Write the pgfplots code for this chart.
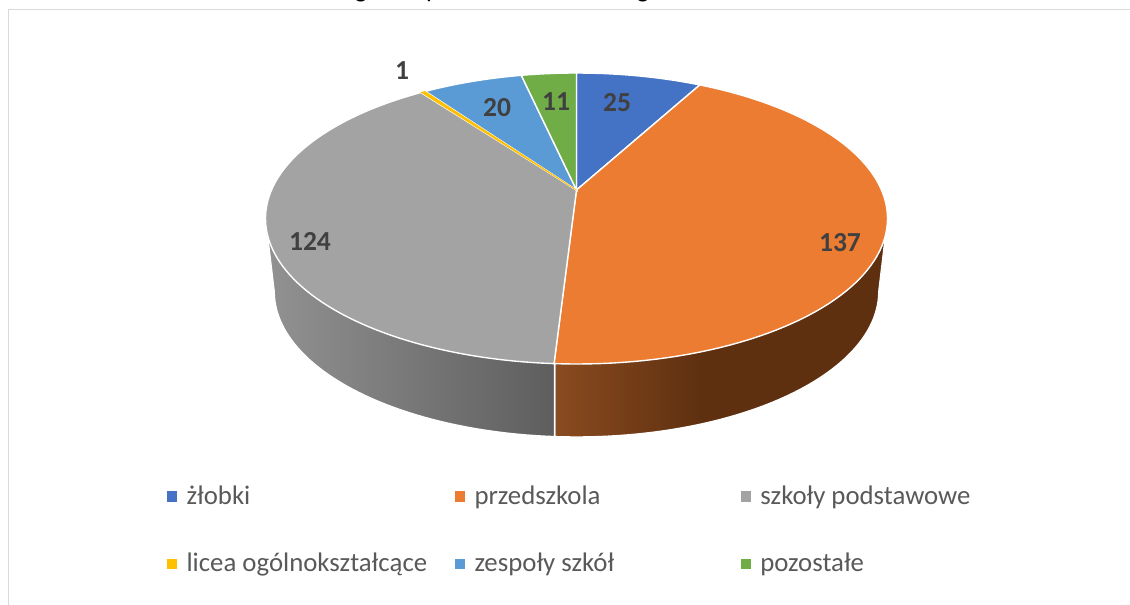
\documentclass[border=0pt]{standalone}
\usepackage{pgfplots}
\pgfplotsset{compat=1.18}
\usepackage{fontspec}
\setmainfont{Carlito}
\definecolor{cBlue}{HTML}{4472C4}
\definecolor{cOrange}{HTML}{EB7C31}
\definecolor{cGray}{HTML}{A3A3A3}
\definecolor{cYellow}{HTML}{FFC000}
\definecolor{cLight}{HTML}{5B9BD5}
\definecolor{cGreen}{HTML}{70AD47}
\definecolor{lbl}{HTML}{404040}
\definecolor{lgd}{HTML}{595959}
\definecolor{frame}{HTML}{D9D9D9}
\definecolor{oA}{HTML}{8A4B20}
\definecolor{oB}{HTML}{5F3010}
\definecolor{gA}{HTML}{929292}
\definecolor{gB}{HTML}{5E5E5E}
\pgfdeclarehorizontalshading{orangeside}{100bp}{color(0bp)=(oA);color(25bp)=(oA);color(47bp)=(oB);color(100bp)=(oB)}
\pgfdeclarehorizontalshading{grayside}{100bp}{color(0bp)=(gA);color(25bp)=(gA);color(75bp)=(gB);color(100bp)=(gB)}
\newcommand\legbox[2]{\makebox[#1][l]{\hspace*{8pt}#2}}
\begin{document}
\begin{tikzpicture}[x=1pt,y=1pt]
\useasboundingbox (0,0) rectangle (1130,605);
\begin{axis}[
  at={(0,0)},anchor=south west,
  scale only axis,width=1130pt,height=605pt,
  xmin=0,xmax=1130,ymin=0,ymax=605,y dir=reverse,
  hide axis,clip=false,
  declare function={
    hh(\v)=\v*180/318;
    AA(\v)=cos(hh(\v))^2+0.6724*sin(hh(\v))^2;
    XX(\v)=576.5+311*1.64*sin(hh(\v))*cos(hh(\v))/AA(\v);
    YY(\v)=218.5-145.5*(cos(hh(\v))^2-0.6724*sin(hh(\v))^2)/AA(\v);
    XB(\v)=576.5+0.972*311*1.64*sin(hh(\v))*cos(hh(\v))/AA(\v);
  },
  legend columns=3,
  legend cell align=left,
  legend style={at={(axis cs:163.5,482)},anchor=north west,draw=none,fill=none,
    font=\fontsize{26.8}{30}\selectfont\color{lgd},
    /tikz/every even column/.append style={column sep=0pt},
    row sep=43pt},
  legend image code/.code={\fill[#1] (0pt,-4.6pt) rectangle (9.5pt,4.6pt);},
]
% frame
\addplot[forget plot,frame,line width=1.5pt] coordinates {(8.5,605) (8.5,9.5) (1130,9.5)};
% sides: each domain is in cumulative data units
\addplot[forget plot,draw=white,line width=1.4pt,shading=orangeside,domain=89.5:162,samples=50]
  ({XB(x)},{YY(x)+73}) -- (axis cs:554.5,218.5) -- (axis cs:887.5,218.5) -- cycle;
\addplot[forget plot,draw=white,line width=1.4pt,shading=grayside,domain=162:228.5,samples=50]
  ({XB(x)},{YY(x)+73}) -- (axis cs:265.5,218.5) -- (axis cs:554.5,218.5) -- cycle;
% top face: 25, 137, 124, 1, 20, 11
\addplot[forget plot,fill=cBlue,draw=white,line width=1.4pt,domain=0:25,samples=15]
  ({XX(x)},{YY(x)}) -- (axis cs:576.5,190) -- cycle;
\addplot[forget plot,fill=cOrange,draw=white,line width=1.4pt,domain=25:162,samples=90]
  ({XX(x)},{YY(x)}) -- (axis cs:576.5,190) -- cycle;
\addplot[forget plot,fill=cGray,draw=white,line width=1.4pt,domain=162:286,samples=90]
  ({XX(x)},{YY(x)}) -- (axis cs:576.5,190) -- cycle;
\addplot[forget plot,fill=cLight,draw=white,line width=1.4pt,domain=287:307,samples=15]
  ({XX(x)},{YY(x)}) -- (axis cs:576.5,190) -- cycle;
\addplot[forget plot,fill=cGreen,draw=white,line width=1.4pt,domain=307:318,samples=10]
  ({XX(x)},{YY(x)}) -- (axis cs:576.5,190) -- cycle;
\addplot[forget plot,fill=cYellow,draw=cYellow,line width=0.7pt,domain=286.1:286.9,samples=3]
  ({XX(x)},{YY(x)}) -- (axis cs:576.5,190) -- cycle;
% legend
\addlegendimage{cBlue}\addlegendentry{\legbox{274pt}{żłobki}}
\addlegendimage{cOrange}\addlegendentry{\legbox{272pt}{przedszkola}}
\addlegendimage{cGray}\addlegendentry{\legbox{225pt}{szkoły podstawowe}}
\addlegendimage{cYellow}\addlegendentry{\legbox{274pt}{licea ogólnokształcące}}
\addlegendimage{cLight}\addlegendentry{\legbox{272pt}{zespoły szkół}}
\addlegendimage{cGreen}\addlegendentry{\legbox{225pt}{pozostałe}}
% labels
\begin{scope}[every node/.style={font=\fontsize{27.5}{30}\selectfont\bfseries,text=lbl,inner sep=0pt}]
\node at (axis cs:617,103) {25};
\node at (axis cs:556,102) {11};
\node at (axis cs:497,108) {20};
\node at (axis cs:402,71) {1};
\node at (axis cs:310,241) {124};
\node at (axis cs:840,243) {137};
\end{scope}
% cropped title descenders
\begin{scope}[every node/.style={font=\fontsize{26}{30}\selectfont,text=black,inner sep=0pt,anchor=base}]
\node at (axis cs:361,-2) {g};
\node at (axis cs:433,-2) {p};
\node at (axis cs:643,-2) {g};
\end{scope}
\end{axis}
\end{tikzpicture}
\end{document}
